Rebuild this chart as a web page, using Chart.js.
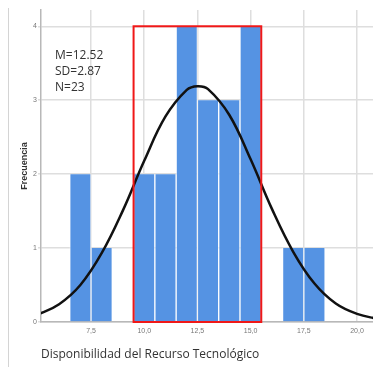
<!DOCTYPE html>
<html>
<head>
<meta charset="utf-8">
<script src="https://cdn.jsdelivr.net/npm/chart.js@4/dist/chart.umd.min.js"></script>
<style>
  html, body { margin: 0; padding: 0; background: #fff; }
  #wrap { position: relative; width: 373px; height: 367px; }
  #frame { position: absolute; left: 8px; top: 8px; width: 1px; height: 359px; background: #d4d4d4; }
</style>
</head>
<body>
<div id="wrap">
  <div id="frame"></div>
  <canvas id="chart" width="373" height="367"></canvas>
</div>
<script>
// histogram bins (bin centre, count)
const binCenters = [7, 8, 10, 11, 12, 13, 14, 15, 17, 18];
const binCounts = [2, 1, 2, 2, 4, 3, 3, 4, 1, 1];

// normal curve
const curveX = [5, 6, 7, 8, 9, 10, 11, 12, 12.5, 13, 14, 15, 16, 17, 18, 19, 20, 21];
const curveY = [0.10, 0.24, 0.50, 0.93, 1.51, 2.18, 2.78, 3.14, 3.19, 3.15, 2.80, 2.20, 1.53, 0.95, 0.52, 0.25, 0.11, 0.04];

const xTicks = [7.5, 10, 12.5, 15, 17.5, 20];
const yTicks = [0, 1, 2, 3, 4];
const xRange = [5.15, 20.75];
const yRange = [0, 4.22];

// highlighted region (red box)
const boxX = [9.5, 15.5];
const boxY = [0, 4];

const statLines = ['M=12.52', 'SD=2.87', 'N=23'];

const xLabel = (v) => v.toFixed(1).replace('.', ',');

const redBox = {
    id: 'redBox',
    afterDatasetsDraw(chart) {
        const { ctx, scales: { x, y } } = chart;
        const x0 = x.getPixelForValue(boxX[0]);
        const x1 = x.getPixelForValue(boxX[1]);
        const y0 = y.getPixelForValue(boxY[0]);
        const y1 = y.getPixelForValue(boxY[1]);
        ctx.save();
        ctx.strokeStyle = '#f01818';
        ctx.lineWidth = 2;
        ctx.strokeRect(x0, y1, x1 - x0, y0 - y1);
        ctx.restore();
    },
    afterDraw(chart) {
        const { ctx, chartArea } = chart;
        ctx.save();
        ctx.fillStyle = '#333';
        ctx.font = '12px "Open Sans", sans-serif';
        ctx.textBaseline = 'middle';
        statLines.forEach((t, i) => {
            ctx.fillText(t, chartArea.left + 14, chartArea.top + 46 + i * 16);
        });
        ctx.restore();
    }
};

new Chart(document.getElementById('chart'), {
    data: {
        datasets: [
            {
                type: 'line',
                data: curveX.map((v, i) => ({ x: v, y: curveY[i] })),
                borderColor: '#111',
                borderWidth: 2.5,
                pointRadius: 0,
                tension: 0.4,
                order: 0
            },
            {
                type: 'bar',
                data: binCenters.map((v, i) => ({ x: v, y: binCounts[i] })),
                backgroundColor: '#5593e3',
                borderColor: 'rgba(255,255,255,0.55)',
                borderWidth: { left: 1, right: 1, top: 0, bottom: 0 },
                barPercentage: 1,
                categoryPercentage: 1,
                grouped: false,
                order: 1
            }
        ]
    },
    options: {
        responsive: false,
        animation: false,
        layout: { padding: { top: 10, left: 0, right: 0, bottom: 0 } },
        plugins: { legend: { display: false }, tooltip: { enabled: false } },
        scales: {
            x: {
                type: 'linear',
                offset: false,
                min: xRange[0],
                max: xRange[1],
                afterBuildTicks: (s) => { s.ticks = xTicks.map(v => ({ value: v })); },
                afterFit: (s) => { s.height = 45; },
                ticks: {
                    callback: (v) => xLabel(v),
                    color: '#777',
                    font: { size: 7, family: 'Liberation Sans' },
                    padding: 5,
                    maxRotation: 0
                },
                grid: { color: '#dedede', lineWidth: 1.5, drawTicks: false, offset: false },
                border: { color: '#b8b8b8', width: 1.5 },
                title: {
                    display: true,
                    text: 'Disponibilidad del Recurso Tecnológico',
                    align: 'start',
                    color: '#333',
                    font: { size: 12, family: '"Open Sans"' },
                    padding: { top: 0, bottom: 5 }
                }
            },
            y: {
                min: yRange[0],
                max: yRange[1],
                afterBuildTicks: (s) => { s.ticks = yTicks.map(v => ({ value: v })); },
                afterFit: (s) => { s.width = 41; },
                ticks: {
                    color: '#777',
                    font: { size: 7, family: 'Liberation Sans' },
                    padding: 1
                },
                grid: { color: '#dedede', lineWidth: 1.5, tickLength: 3 },
                border: { color: '#b8b8b8', width: 1.5 },
                title: {
                    display: true,
                    text: 'Frecuencia',
                    color: '#333',
                    font: { size: 9, weight: 'bold', family: 'Liberation Sans' },
                    padding: { top: 19, bottom: 0 }
                }
            }
        }
    },
    plugins: [redBox]
});
</script>
</body>
</html>
